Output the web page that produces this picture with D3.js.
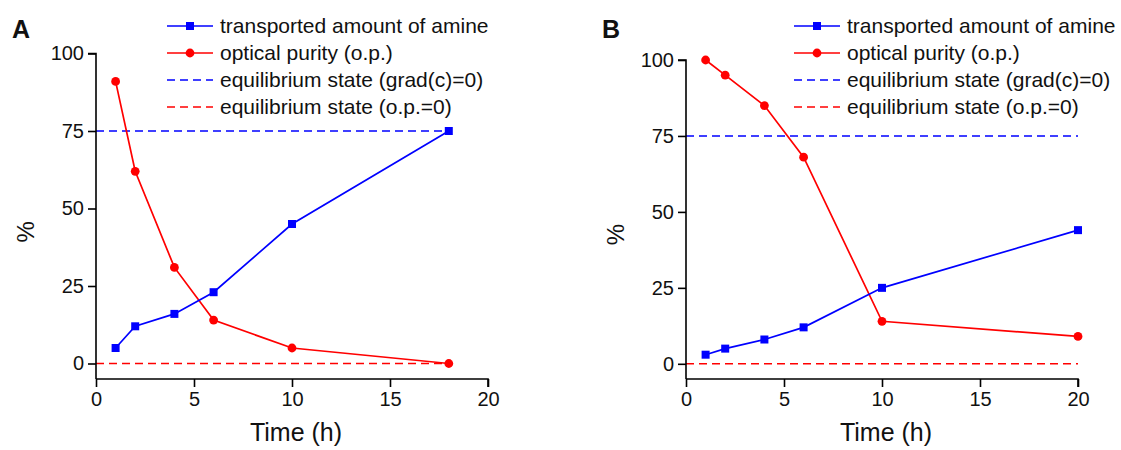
<!DOCTYPE html>
<html>
<head>
<meta charset="utf-8">
<script src="https://cdn.jsdelivr.net/npm/d3@7"></script>
<style>
  body { margin: 0; background: #fff; }
  text { font-family: Arial, "Liberation Sans", sans-serif; fill: #111; }
</style>
</head>
<body>
<div id="chart"></div>
<script>
// panel A
var timeA = [1, 2, 4, 6, 10, 18]
var amineA = [5, 12, 16, 23, 45, 75]
var purityA = [91, 62, 31, 14, 5, 0]
// panel B
var timeB = [1, 2, 4, 6, 10, 20]
var amineB = [3, 5, 8, 12, 25, 44]
var purityB = [100, 95, 85, 68, 14, 9]

var equilGrad = 75
var equilOp = 0
var xTicks = [0, 5, 10, 15, 20]
var yTicks = [0, 25, 50, 75, 100]
var legendLabels = ["transported amount of amine", "optical purity (o.p.)",
                    "equilibrium state (grad(c)=0)", "equilibrium state (o.p.=0)"]

var blue = "#0000ff", red = "#ff0000"

var svg = d3.select("#chart").append("svg")
    .attr("width", 1121).attr("height", 450)

function panel(opts){
    var g = svg.append("g")
    var x = d3.scaleLinear().domain([0, 20]).range([opts.left, opts.left + 392])
    var y = d3.scaleLinear().domain([-5, 100]).range([379, opts.top])

    // equilibrium lines
    var tmax = d3.max(opts.time)
    g.append("line")
        .attr("x1", x(0)).attr("x2", x(tmax))
        .attr("y1", y(equilGrad)).attr("y2", y(equilGrad))
        .attr("stroke", blue).attr("stroke-width", 1.5).attr("stroke-dasharray", "8,5")
    g.append("line")
        .attr("x1", x(0)).attr("x2", x(tmax))
        .attr("y1", y(equilOp)).attr("y2", y(equilOp))
        .attr("stroke", red).attr("stroke-width", 1.5).attr("stroke-dasharray", "8,5")

    var xAxis = g.append("g")
        .attr("transform", "translate(0," + 379 + ")")
        .call(d3.axisBottom(x).tickValues(xTicks).tickSize(8).tickPadding(5))
    var yAxis = g.append("g")
        .attr("transform", "translate(" + opts.left + ",0)")
        .call(d3.axisLeft(y).tickValues(yTicks).tickSize(8).tickPadding(4))
    ;[xAxis, yAxis].forEach(function(a){
        a.select(".domain").attr("stroke", "#000").attr("stroke-width", 1.6)
        a.selectAll(".tick line").attr("stroke", "#000").attr("stroke-width", 1.6)
        a.selectAll(".tick text").style("font-size", "20px")
            .style("font-family", "Arial, 'Liberation Sans', sans-serif").attr("fill", "#111")
    })
    // y domain starts at -5 so the axis line reaches down to the x axis
    yAxis.select(".domain").attr("d", "M-8," + y(100) + "H0V" + y(-5))
    xAxis.select(".domain").attr("d", "M" + x(0) + ",0H" + x(20) + "V8")

    var amine = opts.time.map(function(t, i){ return [t, opts.amine[i]] })
    var purity = opts.time.map(function(t, i){ return [t, opts.purity[i]] })
    var line = d3.line().x(function(d){ return x(d[0]) }).y(function(d){ return y(d[1]) })

    g.append("path").attr("d", line(purity))
        .attr("fill", "none").attr("stroke", red).attr("stroke-width", 1.7)
    g.selectAll(".pt").data(purity).enter().append("circle")
        .attr("cx", function(d){ return x(d[0]) }).attr("cy", function(d){ return y(d[1]) })
        .attr("r", 4.4).attr("fill", red)

    g.append("path").attr("d", line(amine))
        .attr("fill", "none").attr("stroke", blue).attr("stroke-width", 1.7)
    g.selectAll(".sq").data(amine).enter().append("rect")
        .attr("x", function(d){ return x(d[0]) - 4 }).attr("y", function(d){ return y(d[1]) - 4 })
        .attr("width", 8).attr("height", 8).attr("fill", blue)

    // axis titles
    g.append("text").attr("x", x(10) + 4).attr("y", 441).attr("text-anchor", "middle")
        .style("font-size", "25px").text("Time (h)")
    g.append("text").attr("transform", "translate(" + (opts.left - 62) + "," + y(42.5) + ") rotate(-90)")
        .attr("text-anchor", "middle").style("font-size", "24px").text("%")

    // panel letter
    g.append("text").attr("x", opts.left - 84).attr("y", 38)
        .style("font-size", "25px").style("font-weight", "bold").text(opts.letter)

    // legend
    var leg = g.selectAll(".leg").data(legendLabels).enter().append("g")
        .attr("transform", function(d, i){ return "translate(" + opts.legX + "," + (26 + i * 27) + ")" })
    leg.append("line").attr("x1", 0).attr("x2", 46)
        .attr("stroke", function(d, i){ return i % 2 == 0 ? blue : red })
        .attr("stroke-width", 1.6)
        .attr("stroke-dasharray", function(d, i){ return i < 2 ? null : "8,5" })
    leg.filter(function(d, i){ return i == 0 }).append("rect")
        .attr("x", 19).attr("y", -4).attr("width", 8).attr("height", 8).attr("fill", blue)
    leg.filter(function(d, i){ return i == 1 }).append("circle")
        .attr("cx", 23).attr("cy", 0).attr("r", 4.4).attr("fill", red)
    leg.append("text").attr("x", 53).attr("y", 6.5)
        .style("font-size", "21px").text(function(d){ return d })
}

panel({left: 96, top: 53.5, letter: "A", legX: 167, time: timeA, amine: amineA, purity: purityA})
panel({left: 686, top: 60, letter: "B", legX: 794, time: timeB, amine: amineB, purity: purityB})
</script>
</body>
</html>
